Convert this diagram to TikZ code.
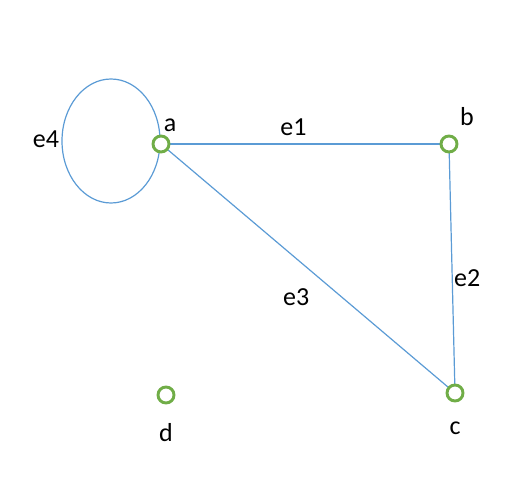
\documentclass[tikz,border=0pt]{standalone}
\usepackage{fontspec}
\setmainfont{Carlito}
\usetikzlibrary{positioning}
\definecolor{edgeblue}{HTML}{5B9BD5}
\definecolor{vertgreen}{HTML}{70AD47}
\tikzset{
  vertex/.style={circle, draw=vertgreen, line width=2.2pt, fill=white,
    minimum size=12pt, inner sep=0pt},
  edge/.style={draw=edgeblue, line width=0.9pt},
  lbl/.style={font=\fontsize{19.5}{23}\selectfont, inner sep=0pt}
}
\begin{document}
\begin{tikzpicture}[x=0.75pt, y=-0.75pt]
		\useasboundingbox (0,0) rectangle (529,495);
		% loop e4 at a
		\coordinate (loopc) at (111,141);
		\draw[edge] (loopc) ellipse [x radius=49, y radius=62];
		
		\coordinate (pa) at (161,144);
		\coordinate (pb) at (449,144);
		\coordinate (pc) at (455,393);
		\coordinate (pd) at (166,395);
		
		\draw[edge] (pa)--(pb)
		node [lbl, pos=0.46, above=6pt] (le1) {e1};
		\draw[edge] (pb)--(pc)
		node [lbl, pos=0.54, right=1pt] (le2) {e2};
		\draw[edge] (pa)--(pc)
		node [lbl, pos=0.46, below=22pt] (le3) {e3};
		
		\node [vertex] (a) at (pa) {};
		\node [vertex] (b) at (pb) {};
		\node [vertex] (c) at (pc) {};
		\node [vertex] (d) at (pd) {};
		
		\node [lbl] (la) at (170,125) {a};
		\node [lbl] (lb) at (467,117) {b};
		\node [lbl] (lc) at (455,428) {c};
		\node [lbl] (ld) at (166,433) {d};
		\node [lbl] (le4) at (46,139) {e4};
\end{tikzpicture}
\end{document}
